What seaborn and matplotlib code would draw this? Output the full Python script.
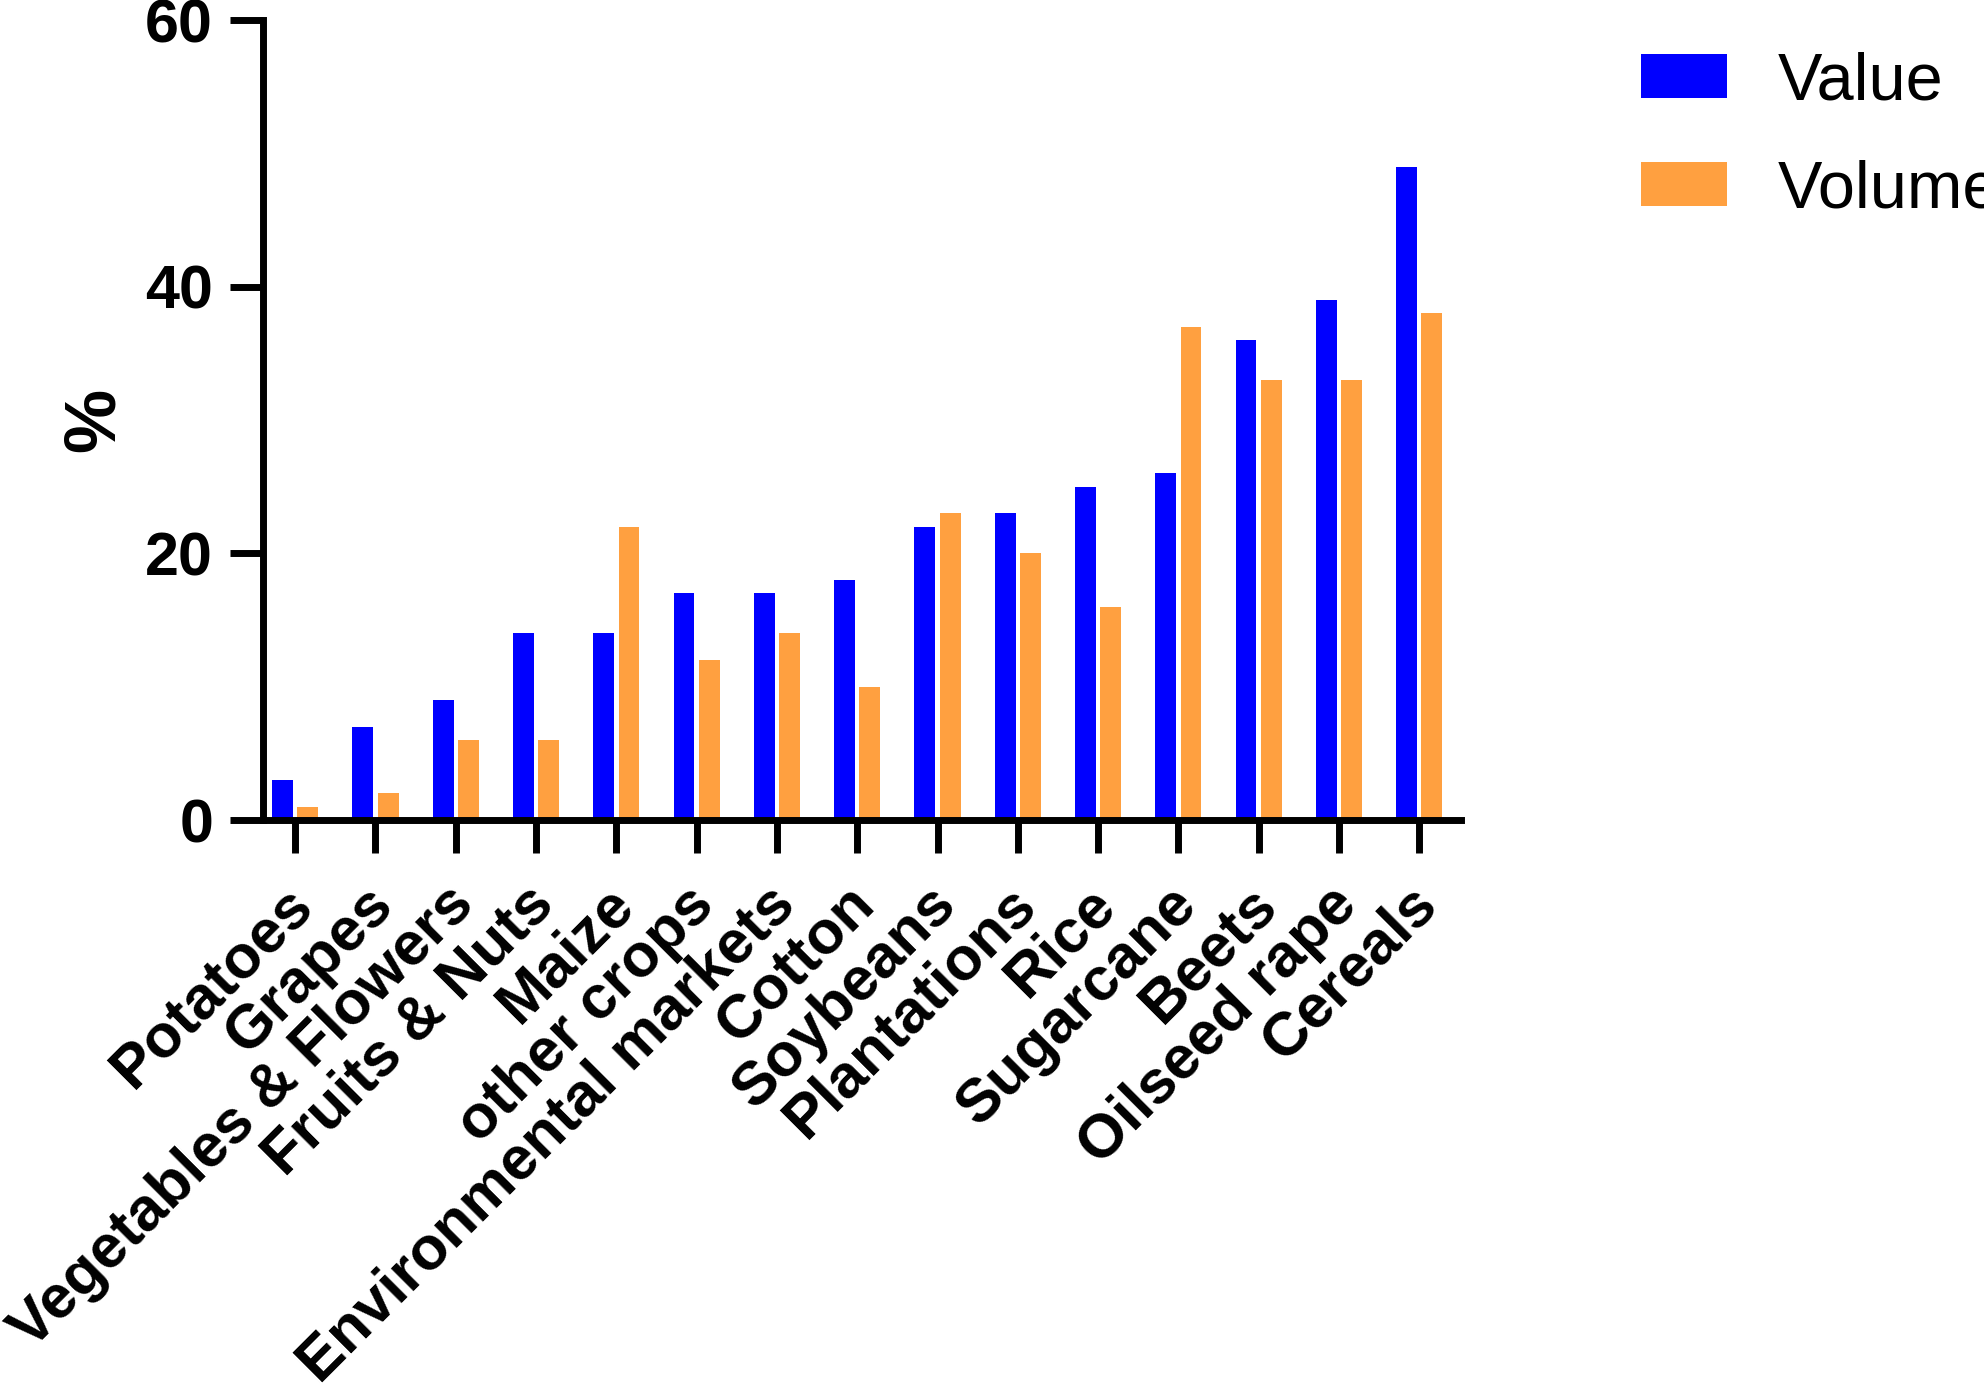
import matplotlib
matplotlib.use('Agg')
import matplotlib.pyplot as plt
import matplotlib.transforms as mtransforms
import seaborn as sns
import pandas as pd

# ── Data ──────────────────────────────────────────────────────────────────────
crops = ["Potatoes", "Grapes", "Vegetables & Flowers", "Fruits & Nuts", "Maize",
         "other crops", "Environmental markets", "Cotton", "Soybeans",
         "Plantations", "Rice", "Sugarcane", "Beets", "Oilseed rape", "Cereals"]
value_pct = [3, 7, 9, 14, 14, 17, 17, 18, 22, 23, 25, 26, 36, 39, 49]
volume_pct = [1, 2, 6, 6, 22, 12, 14, 10, 23, 20, 16, 37, 33, 33, 38]
series = ["Value", "Volume"]
colors = ["#0000FF", "#FFA040"]
y_ticks = [0, 20, 40, 60]

df = pd.DataFrame({
    "crop": crops * 2,
    "pct": value_pct + volume_pct,
    "series": [series[0]] * len(crops) + [series[1]] * len(crops),
})

sns.set_style("white")
plt.rcParams['font.family'] = ['Liberation Sans', 'DejaVu Sans']
plt.rcParams['text.color'] = 'black'
plt.rcParams['axes.labelcolor'] = 'black'
plt.rcParams['xtick.color'] = 'black'
plt.rcParams['ytick.color'] = 'black'

fig = plt.figure(figsize=(9.92, 6.915), dpi=200)
ax = fig.add_axes([0.1326, 0.407, 0.7364 - 0.1326, 0.9855 - 0.407])

sns.barplot(data=df, x="crop", y="pct", hue="series", order=crops,
            hue_order=series, palette=colors, saturation=1, width=0.63,
            gap=0.175, linewidth=0, ax=ax, legend=True)

ax.set_xlim(-0.40, 14.52)
ax.set_ylim(0, 60)
ax.set_yticks(y_ticks)
ax.set_yticklabels([str(t) for t in y_ticks], fontsize=22, fontweight="bold")
ax.set_xticks(range(len(crops)))
ax.set_xticklabels(crops, fontsize=22, fontweight="bold", rotation=45,
                   ha="right", va="top", rotation_mode="anchor")
ax.set_xlabel("")
ax.set_ylabel("%", fontsize=26, fontweight="bold", labelpad=6)

for s in ["top", "right"]:
    ax.spines[s].set_visible(False)
for s in ["left", "bottom"]:
    ax.spines[s].set_linewidth(2.5)
    ax.spines[s].set_color("black")
ax.tick_params(axis="both", direction="out", length=12, width=2.5,
               color="black", left=True, bottom=True)
ax.tick_params(axis="y", pad=6)
ax.tick_params(axis="x", pad=8)

# nudge rotated labels a little to the left (after tick_params, which resets transforms)
shift = mtransforms.ScaledTranslation(-0.055, 0, fig.dpi_scale_trans)
for lbl in ax.get_xticklabels():
    lbl.set_transform(lbl.get_transform() + shift)

ax.legend_.remove()
handles, labels = ax.get_legend_handles_labels()
fig.legend(handles[:2], labels[:2], loc="upper left",
           bbox_to_anchor=(0.827, 0.963), bbox_transform=fig.transFigure,
           frameon=False, fontsize=24, handlelength=1.3, handleheight=0.65,
           handletextpad=0.75, labelspacing=0.69, borderpad=0, borderaxespad=0)

plt.savefig("out.png", dpi=200, facecolor="white")
plt.close()
